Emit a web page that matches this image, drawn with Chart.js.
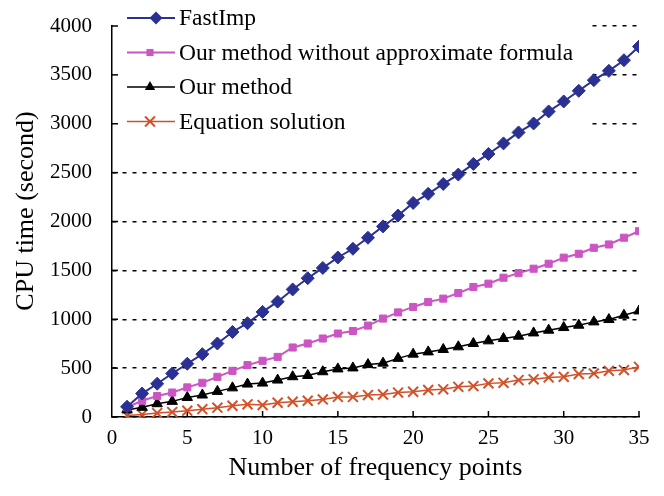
<!DOCTYPE html>
<html>
<head>
<meta charset="utf-8">
<script src="https://cdn.jsdelivr.net/npm/chart.js@4/dist/chart.umd.min.js"></script>
<style>
  html, body { margin: 0; padding: 0; background: #fff; }
  canvas { display: block; }
</style>
</head>
<body>
<canvas id="c" width="664" height="496"></canvas>
<script>
// ---- data ----
const freqPoints = [1,2,3,4,5,6,7,8,9,10,11,12,13,14,15,16,17,18,19,20,21,22,23,24,25,26,27,28,29,30,31,32,33,34,35];
const fastImp = [105,240,340,445,545,643,752,870,960,1075,1180,1305,1420,1525,1632,1721,1834,1950,2061,2190,2283,2384,2480,2589,2691,2799,2911,3003,3126,3228,3337,3446,3541,3650,3790];
const ourNoApprox = [100,166,214,250,303,350,411,472,531,575,615,711,752,803,854,880,935,1007,1070,1126,1177,1211,1268,1330,1364,1425,1472,1517,1568,1630,1670,1731,1765,1834,1901];
const ourMethod = [72,99,136,160,200,225,262,298,337,347,378,412,425,463,492,502,536,551,600,643,666,691,718,752,779,803,827,860,888,915,939,973,997,1041,1085];
const equationSol = [15,25,40,50,65,80,95,115,130,122,146,156,166,180,205,205,224,230,250,258,276,283,309,316,344,350,378,385,405,411,439,446,472,480,513];
const seriesNames = ['FastImp', 'Our method without approximate formula', 'Our method', 'Equation solution'];
const xTickValues = [0,5,10,15,20,25,30,35];
const yTickValues = [0,500,1000,1500,2000,2500,3000,3500,4000];
const xTitle = 'Number of frequency points';
const yTitle = 'CPU time (second)';

const FONT = "'Liberation Serif', 'Times New Roman', serif";
const toXY = (ys) => freqPoints.map((x, i) => ({x: x, y: ys[i]}));

function marker(ctx, style, r, x, y, color, bw) {
  ctx.save();
  ctx.fillStyle = color; ctx.strokeStyle = color; ctx.lineWidth = bw;
  ctx.beginPath();
  if (style === 'rectRot') {
    ctx.moveTo(x, y - r); ctx.lineTo(x + r, y); ctx.lineTo(x, y + r); ctx.lineTo(x - r, y); ctx.closePath(); ctx.fill();
  } else if (style === 'rect') {
    const s = r * Math.SQRT1_2; ctx.fillRect(x - s, y - s, 2 * s, 2 * s);
  } else if (style === 'triangle') {
    ctx.moveTo(x, y - r); ctx.lineTo(x + r * 0.866, y + r * 0.5); ctx.lineTo(x - r * 0.866, y + r * 0.5); ctx.closePath(); ctx.fill();
  } else if (style === 'crossRot') {
    const s = r * Math.SQRT1_2;
    ctx.moveTo(x - s, y - s); ctx.lineTo(x + s, y + s); ctx.moveTo(x + s, y - s); ctx.lineTo(x - s, y + s); ctx.stroke();
  }
  ctx.restore();
}

const legendMarkerX = [156, 150, 150, 150];

const boxLegend = {
  id: 'boxLegend',
  beforeDatasetsDraw(chart) {
    const {ctx, chartArea, scales} = chart;
    ctx.save();
    // white legend box hiding the grid lines behind it
    ctx.fillStyle = '#fff';
    ctx.fillRect(chartArea.left + 1, 0, 588 - chartArea.left - 1, 138);
    // inward tick marks
    ctx.strokeStyle = '#000'; ctx.lineWidth = 1.5; ctx.setLineDash([]);
    yTickValues.forEach(v => {
      const y = scales.y.getPixelForValue(v);
      ctx.beginPath(); ctx.moveTo(chartArea.left, y); ctx.lineTo(chartArea.left + 6, y); ctx.stroke();
    });
    xTickValues.forEach(v => {
      if (v === 0) return;
      const x = scales.x.getPixelForValue(v);
      ctx.beginPath(); ctx.moveTo(x, chartArea.bottom); ctx.lineTo(x, chartArea.bottom - 6); ctx.stroke();
    });
    // legend entries
    chart.data.datasets.forEach((ds, i) => {
      const y = 18 + i * 34.5;
      ctx.strokeStyle = ds.borderColor; ctx.lineWidth = ds.borderWidth;
      ctx.beginPath(); ctx.moveTo(127, y); ctx.lineTo(175, y); ctx.stroke();
      marker(ctx, ds.pointStyle, ds.pointRadius, legendMarkerX[i], y, ds.pointBackgroundColor, ds.pointBorderWidth);
      ctx.fillStyle = '#000';
      ctx.font = "23.5px " + FONT;
      ctx.textBaseline = 'middle'; ctx.textAlign = 'left';
      ctx.fillText(seriesNames[i], 179, y + 1);
    });
    ctx.restore();
  },
  afterDraw(chart) {
    const {ctx} = chart;
    ctx.save();
    ctx.translate(26, 211);
    ctx.rotate(-Math.PI / 2);
    ctx.fillStyle = '#000';
    ctx.font = "26px " + FONT;
    ctx.textAlign = 'center'; ctx.textBaseline = 'middle';
    ctx.fillText(yTitle, 0, 0);
    ctx.restore();
  }
};

const tickFont = {family: FONT, size: 21};
const titleFont = {family: FONT, size: 26};

new Chart(document.getElementById('c'), {
  type: 'line',
  data: {
    datasets: [
      {label: seriesNames[0], data: toXY(fastImp), borderColor: '#2B3192', backgroundColor: '#2B3192',
       pointBackgroundColor: '#2B3192', pointBorderColor: '#2B3192', borderWidth: 2, pointStyle: 'rectRot', pointRadius: 6.5, pointBorderWidth: 1},
      {label: seriesNames[1], data: toXY(ourNoApprox), borderColor: '#CC55C4', backgroundColor: '#CC55C4',
       pointBackgroundColor: '#CC55C4', pointBorderColor: '#CC55C4', borderWidth: 2, pointStyle: 'rect', pointRadius: 5, pointBorderWidth: 1},
      {label: seriesNames[2], data: toXY(ourMethod), borderColor: '#000000', backgroundColor: '#000000',
       pointBackgroundColor: '#000000', pointBorderColor: '#000000', borderWidth: 1.5, pointStyle: 'triangle', pointRadius: 6, pointBorderWidth: 1},
      {label: seriesNames[3], data: toXY(equationSol), borderColor: '#D0512A', backgroundColor: '#D0512A',
       pointBackgroundColor: '#D0512A', pointBorderColor: '#D0512A', borderWidth: 1.5, pointStyle: 'crossRot', pointRadius: 7, pointBorderWidth: 2}
    ]
  },
  options: {
    responsive: false,
    animation: false,
    layout: {padding: {left: 0, right: 25, top: 26, bottom: 0}},
    plugins: {legend: {display: false}, tooltip: {enabled: false}},
    elements: {line: {tension: 0}},
    scales: {
      x: {
        type: 'linear', min: 0, max: 35,
        afterBuildTicks(s) { s.ticks = xTickValues.map(v => ({value: v})); },
        ticks: {font: tickFont, color: '#000', padding: 9, maxRotation: 0, autoSkip: false, callback: v => String(v)},
        grid: {display: false, drawTicks: false},
        border: {display: true, color: '#000', width: 1.5},
        title: {display: true, text: xTitle, font: titleFont, color: '#000', padding: {top: 0, bottom: 12}},
        afterFit(s) { s.height = 79; s.paddingLeft = 0; s.paddingRight = 0; }
      },
      y: {
        type: 'linear', min: 0, max: 4000,
        afterBuildTicks(s) { s.ticks = yTickValues.map(v => ({value: v})); },
        ticks: {font: tickFont, color: '#000', padding: 20, autoSkip: false, callback: v => String(v)},
        grid: {display: true, color: '#000', lineWidth: 1.5, drawTicks: false},
        border: {display: true, color: '#000', width: 1.5, dash: [4, 6]},
        title: {display: false},
        afterFit(s) { s.width = 112; s.paddingTop = 0; s.paddingBottom = 0; }
      }
    }
  },
  plugins: [boxLegend]
});
</script>
</body>
</html>
